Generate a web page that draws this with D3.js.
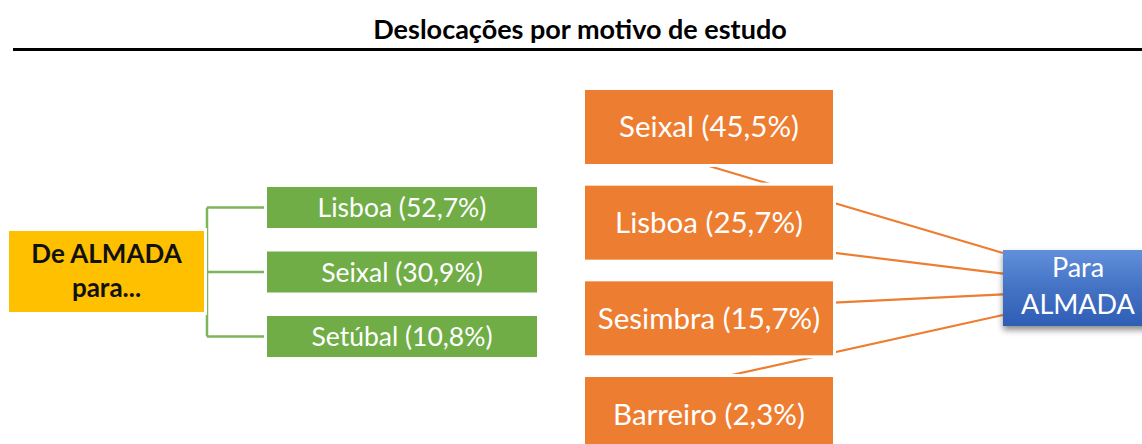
<!DOCTYPE html>
<html><head><meta charset="utf-8">
<script src="https://cdn.jsdelivr.net/npm/d3@7"></script>
<style>body{margin:0;background:#fff} svg{display:block}</style>
</head><body>
<svg id="chart" width="1142" height="444"></svg>
<script>
const title = "Deslocações por motivo de estudo";
const fromLines = ["De ALMADA", "para..."];
const toLines = ["Para", "ALMADA"];
const destinations = ["Lisboa", "Seixal", "Setúbal"];
const destShares = [52.7, 30.9, 10.8];
const origins = ["Seixal", "Lisboa", "Sesimbra", "Barreiro"];
const originShares = [45.5, 25.7, 15.7, 2.3];

const fmt = v => v.toFixed(1).replace(".", ",") + "%";
const W = 1142, H = 444;
const svg = d3.select("#chart");
const FONT = "Lato, 'Open Sans', sans-serif";
const GREEN = "#70AD47", ORANGE = "#ED7D31", YELLOW = "#FFC000";

const defs = svg.append("defs");
const grad = defs.append("linearGradient").attr("id", "blueGrad")
  .attr("x1", 0).attr("y1", 0).attr("x2", 0).attr("y2", 1);
grad.append("stop").attr("offset", "0%").attr("stop-color", "#6190DB");
grad.append("stop").attr("offset", "50%").attr("stop-color", "#4472C4");
grad.append("stop").attr("offset", "100%").attr("stop-color", "#2F5EB5");
const filt = defs.append("filter").attr("id", "shadow")
  .attr("x", "-20%").attr("y", "-20%").attr("width", "140%").attr("height", "170%");
filt.append("feDropShadow").attr("dx", 0).attr("dy", 4).attr("stdDeviation", 3)
  .attr("flood-color", "#000").attr("flood-opacity", 0.45);

// Title and rule
svg.append("text").attr("x", 580).attr("y", 38.5).attr("text-anchor", "middle")
  .attr("font-family", FONT).attr("font-weight", 700).attr("font-size", 27)
  .attr("fill", "#000").text(title);
svg.append("line").attr("x1", 13).attr("x2", W).attr("y1", 49.5).attr("y2", 49.5)
  .attr("stroke", "#000").attr("stroke-width", 3);

// Scales
const yDest = d3.scaleBand().domain(destinations).range([187, 357]).paddingInner(0.364).paddingOuter(0);
const destX = [267, 537];
const yOrig = d3.scaleBand().domain(origins).range([90, 451]).paddingInner(0.2265).paddingOuter(0);
const origX = [585, 833];
const anchorY = d3.scalePoint().domain(origins).range([166, 380]);
const targetY = d3.scalePoint().domain(origins).range([253, 315]);
const fromBox = {x0: 9, x1: 204, y0: 231, y1: 312};
const toBox = {x0: 1003, x1: 1153, y0: 250, y1: 326};

function box(g, x0, x1, y0, y1, fill, border) {
  if (border) g.append("rect").attr("x", x0 - 3).attr("y", y0 - 3)
    .attr("width", x1 - x0 + 6).attr("height", y1 - y0 + 6).attr("fill", "#fff");
  g.append("rect").attr("x", x0).attr("y", y0).attr("width", x1 - x0).attr("height", y1 - y0).attr("fill", fill);
}

// Green connectors (left tree)
const busX = 207;
const tree = svg.append("g").attr("stroke", "#7DB65A").attr("stroke-width", 2.5).attr("fill", "none");
const ys = destinations.map(d => yDest(d) + yDest.bandwidth() / 2);
tree.append("line").attr("x1", busX).attr("x2", busX).attr("y1", d3.min(ys)).attr("y2", d3.max(ys));
tree.selectAll("line.h").data(destinations).join("line").attr("class", "h")
  .attr("x1", busX).attr("x2", destX[0])
  .attr("y1", d => yDest(d) + yDest.bandwidth() / 2).attr("y2", d => yDest(d) + yDest.bandwidth() / 2);

// Orange links (right)
const cxOrig = (origX[0] + origX[1]) / 2;
svg.append("g").selectAll("line").data(origins).join("line")
  .attr("x1", cxOrig).attr("y1", d => anchorY(d))
  .attr("x2", toBox.x0).attr("y2", d => targetY(d))
  .attr("stroke", ORANGE).attr("stroke-width", 2.2);

// Yellow "from" box
const gFrom = svg.append("g");
box(gFrom, fromBox.x0, fromBox.x1, fromBox.y0, fromBox.y1, YELLOW, true);
gFrom.selectAll("text").data(fromLines).join("text")
  .attr("x", (fromBox.x0 + fromBox.x1) / 2).attr("y", (d, i) => 263 + i * 34)
  .attr("text-anchor", "middle").attr("font-family", FONT).attr("font-weight", 700)
  .attr("font-size", 26).attr("fill", "#111").text(d => d);

// Green destination boxes
const gDest = svg.append("g");
destinations.forEach((d, i) => {
  const y0 = yDest(d);
  box(gDest, destX[0], destX[1], y0, y0 + yDest.bandwidth(), GREEN, true);
  gDest.append("text").attr("x", (destX[0] + destX[1]) / 2).attr("y", y0 + yDest.bandwidth() / 2 + 9.5)
    .attr("text-anchor", "middle").attr("font-family", FONT).attr("font-size", 26.5)
    .attr("fill", "#fff").text(`${d} (${fmt(destShares[i])})`);
});

// Orange origin boxes
const gOrig = svg.append("g");
origins.forEach((d, i) => {
  const y0 = yOrig(d);
  box(gOrig, origX[0], origX[1], y0, y0 + yOrig.bandwidth(), ORANGE, true);
  gOrig.append("text").attr("x", cxOrig).attr("y", y0 + yOrig.bandwidth() / 2 + 10.5)
    .attr("text-anchor", "middle").attr("font-family", FONT).attr("font-size", 29.5)
    .attr("fill", "#fff").text(`${d} (${fmt(originShares[i])})`);
});

// Blue "to" box
const gTo = svg.append("g");
gTo.append("rect").attr("x", toBox.x0).attr("y", toBox.y0)
  .attr("width", toBox.x1 - toBox.x0).attr("height", toBox.y1 - toBox.y0)
  .attr("fill", "url(#blueGrad)").attr("filter", "url(#shadow)");
gTo.selectAll("text").data(toLines).join("text")
  .attr("x", 1078).attr("y", (d, i) => 277 + i * 37)
  .attr("text-anchor", "middle").attr("font-family", FONT).attr("font-size", 27)
  .attr("fill", "#fff").text(d => d);
</script>
</body></html>
